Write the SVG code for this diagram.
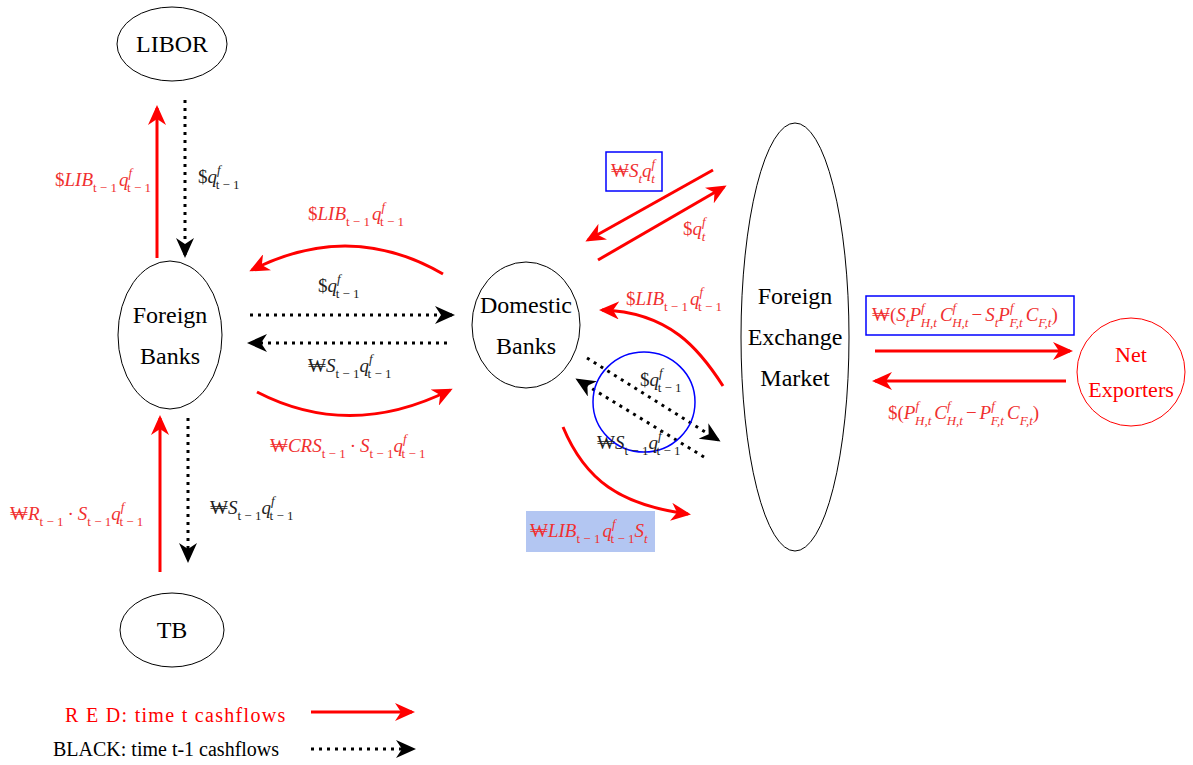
<svg xmlns="http://www.w3.org/2000/svg" width="1193" height="765" viewBox="0 0 1193 765">
<style>
.node{fill:#fff;stroke:#000;stroke-width:1}
.nt{font-family:"Liberation Serif","DejaVu Serif",serif;font-size:24px;fill:#000;text-anchor:middle}
.m{font-family:"Liberation Serif","DejaVu Serif",serif;font-size:19px}
.i{font-style:italic}
.s{font-size:13px}
.r{fill:#f03030}
.k{fill:#222}
.red{fill:none;stroke:#f00;stroke-width:3}
.blk{fill:none;stroke:#000;stroke-width:3;stroke-dasharray:3 5}
.lg{font-family:"Liberation Serif","DejaVu Serif",serif;font-size:20px}
</style>
<defs>
<marker id="ar" markerUnits="userSpaceOnUse" markerWidth="22" markerHeight="18" refX="17" refY="9" orient="auto-start-reverse" viewBox="0 0 22 18">
<path d="M0,0 L20,9 L0,18 L6,9 z" fill="#f00"/>
</marker>
<marker id="ak" markerUnits="userSpaceOnUse" markerWidth="22" markerHeight="18" refX="17" refY="9" orient="auto-start-reverse" viewBox="0 0 22 18">
<path d="M0,0 L20,9 L0,18 L6,9 z" fill="#000"/>
</marker>
</defs>
<rect width="1193" height="765" fill="#fff"/>

<g id="connectors">
<line class="red" x1="157" y1="258" x2="157" y2="108" marker-end="url(#ar)"/>
<line class="blk" x1="185" y1="100" x2="185" y2="255" marker-end="url(#ak)"/>
<line class="red" x1="160" y1="572" x2="160" y2="418" marker-end="url(#ar)"/>
<line class="blk" x1="188" y1="418" x2="188" y2="560" marker-end="url(#ak)"/>
<path class="red" d="M443,274 Q350,220 252,270" marker-end="url(#ar)"/>
<line class="blk" x1="250" y1="315" x2="452" y2="315" marker-end="url(#ak)"/>
<line class="blk" x1="447" y1="343" x2="250" y2="343" marker-end="url(#ak)"/>
<path class="red" d="M257,392 Q350,440 450,390" marker-end="url(#ar)"/>
<line class="red" x1="713" y1="170" x2="588" y2="240" marker-end="url(#ar)"/>
<line class="red" x1="598" y1="260" x2="724" y2="187" marker-end="url(#ar)"/>
<path class="red" d="M723,386 C700,350 670,312 602,310" marker-end="url(#ar)"/>
<line class="blk" x1="587" y1="358" x2="718" y2="440" marker-end="url(#ak)"/>
<line class="blk" x1="704" y1="457" x2="578" y2="380" marker-end="url(#ak)"/>
<path class="red" d="M563,427 C585,480 620,505 688,514" marker-end="url(#ar)"/>
<line class="red" x1="875" y1="351" x2="1070" y2="351" marker-end="url(#ar)"/>
<line class="red" x1="1066" y1="381" x2="875" y2="381" marker-end="url(#ar)"/>
<line class="red" x1="311" y1="712" x2="412" y2="712" marker-end="url(#ar)"/>
<line class="blk" x1="311" y1="749" x2="413" y2="749" marker-end="url(#ak)"/>
</g>

<g id="libor"><ellipse class="node" cx="172" cy="44" rx="55" ry="37"/><text class="nt" x="172" y="52">LIBOR</text></g>
<g id="foreign-banks"><ellipse class="node" cx="170" cy="335" rx="52" ry="74"/><text class="nt" x="170" y="323">Foreign</text><text class="nt" x="170" y="364">Banks</text></g>
<g id="tb"><ellipse class="node" cx="172" cy="630" rx="52" ry="37"/><text class="nt" x="172" y="638">TB</text></g>
<g id="domestic-banks"><ellipse class="node" cx="526" cy="325" rx="54" ry="63"/><text class="nt" x="526" y="313">Domestic</text><text class="nt" x="526" y="354">Banks</text></g>
<g id="fx-market"><ellipse class="node" cx="795" cy="337" rx="54" ry="214"/><text class="nt" x="795" y="304">Foreign</text><text class="nt" x="795" y="345">Exchange</text><text class="nt" x="795" y="386">Market</text></g>
<g id="net-exporters"><circle cx="1131" cy="372" r="54" fill="#fff" stroke="#f00" stroke-width="1"/><text class="nt" x="1131" y="362" style="fill:#f00;font-size:22px">Net</text><text class="nt" x="1131" y="397" style="fill:#f00;font-size:22px">Exporters</text></g>
<g id="blue-ellipse"><ellipse cx="644" cy="402" rx="51" ry="50" fill="none" stroke="#00f" stroke-width="1.5"/></g>

<g id="labels">
<text class="m r" x="55" y="186">$<tspan class="i">LIB</tspan><tspan class="s" dy="6">t − 1</tspan><tspan class="i" dy="-6" dx="2">q</tspan><tspan class="s i" dy="-9">f</tspan><tspan class="s" dx="-5" dy="15">t − 1</tspan></text>
<text class="m k" x="198" y="183">$<tspan class="i">q</tspan><tspan class="s i" dy="-9">f</tspan><tspan class="s" dx="-5" dy="15">t − 1</tspan></text>
<text class="m r" x="308" y="220">$<tspan class="i">LIB</tspan><tspan class="s" dy="6">t − 1</tspan><tspan class="i" dy="-6" dx="2">q</tspan><tspan class="s i" dy="-9">f</tspan><tspan class="s" dx="-5" dy="15">t − 1</tspan></text>
<text class="m k" x="318" y="292">$<tspan class="i">q</tspan><tspan class="s i" dy="-9">f</tspan><tspan class="s" dx="-5" dy="15">t − 1</tspan></text>
<text class="m k" x="308" y="372">₩<tspan class="i">S</tspan><tspan class="s" dy="6">t − 1</tspan><tspan class="i" dy="-6">q</tspan><tspan class="s i" dy="-9">f</tspan><tspan class="s" dx="-5" dy="15">t − 1</tspan></text>
<text class="m r" x="270" y="452">₩<tspan class="i">CRS</tspan><tspan class="s" dy="6">t − 1</tspan><tspan dy="-6" dx="4">·</tspan><tspan class="i" dx="4">S</tspan><tspan class="s" dy="6">t − 1</tspan><tspan class="i" dy="-6">q</tspan><tspan class="s i" dy="-9">f</tspan><tspan class="s" dx="-5" dy="15">t − 1</tspan></text>
<text class="m r" x="10" y="520">₩<tspan class="i">R</tspan><tspan class="s" dy="6">t − 1</tspan><tspan dy="-6" dx="4">·</tspan><tspan class="i" dx="4">S</tspan><tspan class="s" dy="6">t − 1</tspan><tspan class="i" dy="-6">q</tspan><tspan class="s i" dy="-9">f</tspan><tspan class="s" dx="-5" dy="15">t − 1</tspan></text>
<text class="m k" x="210" y="514">₩<tspan class="i">S</tspan><tspan class="s" dy="6">t − 1</tspan><tspan class="i" dy="-6">q</tspan><tspan class="s i" dy="-9">f</tspan><tspan class="s" dx="-5" dy="15">t − 1</tspan></text>
<rect x="606" y="152" width="56" height="39" fill="#fff" stroke="#00f" stroke-width="1.5"/>
<text class="m r" x="611" y="177">₩<tspan class="i">S</tspan><tspan class="s i" dy="6">t</tspan><tspan class="i" dy="-6">q</tspan><tspan class="s i" dy="-9">f</tspan><tspan class="s i" dx="-4" dy="15">t</tspan></text>
<text class="m r" x="683" y="235">$<tspan class="i">q</tspan><tspan class="s i" dy="-9">f</tspan><tspan class="s i" dx="-4" dy="15">t</tspan></text>
<text class="m r" x="626" y="305">$<tspan class="i">LIB</tspan><tspan class="s" dy="6">t − 1</tspan><tspan class="i" dy="-6" dx="2">q</tspan><tspan class="s i" dy="-9">f</tspan><tspan class="s" dx="-5" dy="15">t − 1</tspan></text>
<text class="m k" x="640" y="386">$<tspan class="i">q</tspan><tspan class="s i" dy="-9">f</tspan><tspan class="s" dx="-5" dy="15">t − 1</tspan></text>
<text class="m k" x="597" y="449">₩<tspan class="i">S</tspan><tspan class="s" dy="6">t − 1</tspan><tspan class="i" dy="-6">q</tspan><tspan class="s i" dy="-9">f</tspan><tspan class="s" dx="-5" dy="15">t − 1</tspan></text>
<rect x="526" y="511" width="129" height="41" fill="#b3c6f2"/>
<text class="m r" x="530" y="537">₩<tspan class="i">LIB</tspan><tspan class="s" dy="6">t − 1</tspan><tspan class="i" dy="-6" dx="2">q</tspan><tspan class="s i" dy="-9">f</tspan><tspan class="s" dx="-5" dy="15">t − 1</tspan><tspan class="i" dy="-6">S</tspan><tspan class="s i" dy="6">t</tspan></text>
<rect x="866" y="296" width="208" height="39" fill="#fff" stroke="#00f" stroke-width="1.5"/>
<text class="m r" x="872" y="321">₩(<tspan class="i">S</tspan><tspan class="s i" dy="6">t</tspan><tspan class="i" dy="-6">P</tspan><tspan class="s i" dy="-9">f</tspan><tspan class="s i" dx="-4" dy="15">H,t</tspan><tspan class="i" dy="-6" dx="3">C</tspan><tspan class="s i" dy="-9">f</tspan><tspan class="s i" dx="-4" dy="15">H,t</tspan><tspan dy="-6" dx="3">−</tspan><tspan class="i" dx="3">S</tspan><tspan class="s i" dy="6">t</tspan><tspan class="i" dy="-6">P</tspan><tspan class="s i" dy="-9">f</tspan><tspan class="s i" dx="-4" dy="15">F,t</tspan><tspan class="i" dy="-6" dx="3">C</tspan><tspan class="s i" dy="6">F,t</tspan><tspan dy="-6">)</tspan></text>
<text class="m r" x="888" y="419">$(<tspan class="i">P</tspan><tspan class="s i" dy="-9">f</tspan><tspan class="s i" dx="-4" dy="15">H,t</tspan><tspan class="i" dy="-6" dx="3">C</tspan><tspan class="s i" dy="-9">f</tspan><tspan class="s i" dx="-4" dy="15">H,t</tspan><tspan dy="-6" dx="3">−</tspan><tspan class="i" dx="3">P</tspan><tspan class="s i" dy="-9">f</tspan><tspan class="s i" dx="-4" dy="15">F,t</tspan><tspan class="i" dy="-6" dx="3">C</tspan><tspan class="s i" dy="6">F,t</tspan><tspan dy="-6">)</tspan></text>
</g>

<g id="legend">
<text class="lg" x="65" y="722" fill="#f00" letter-spacing="1.3">R E D: time t cashflows</text>
<text class="lg" x="53" y="756" fill="#000">BLACK: time t-1 cashflows</text>
</g>
</svg>
